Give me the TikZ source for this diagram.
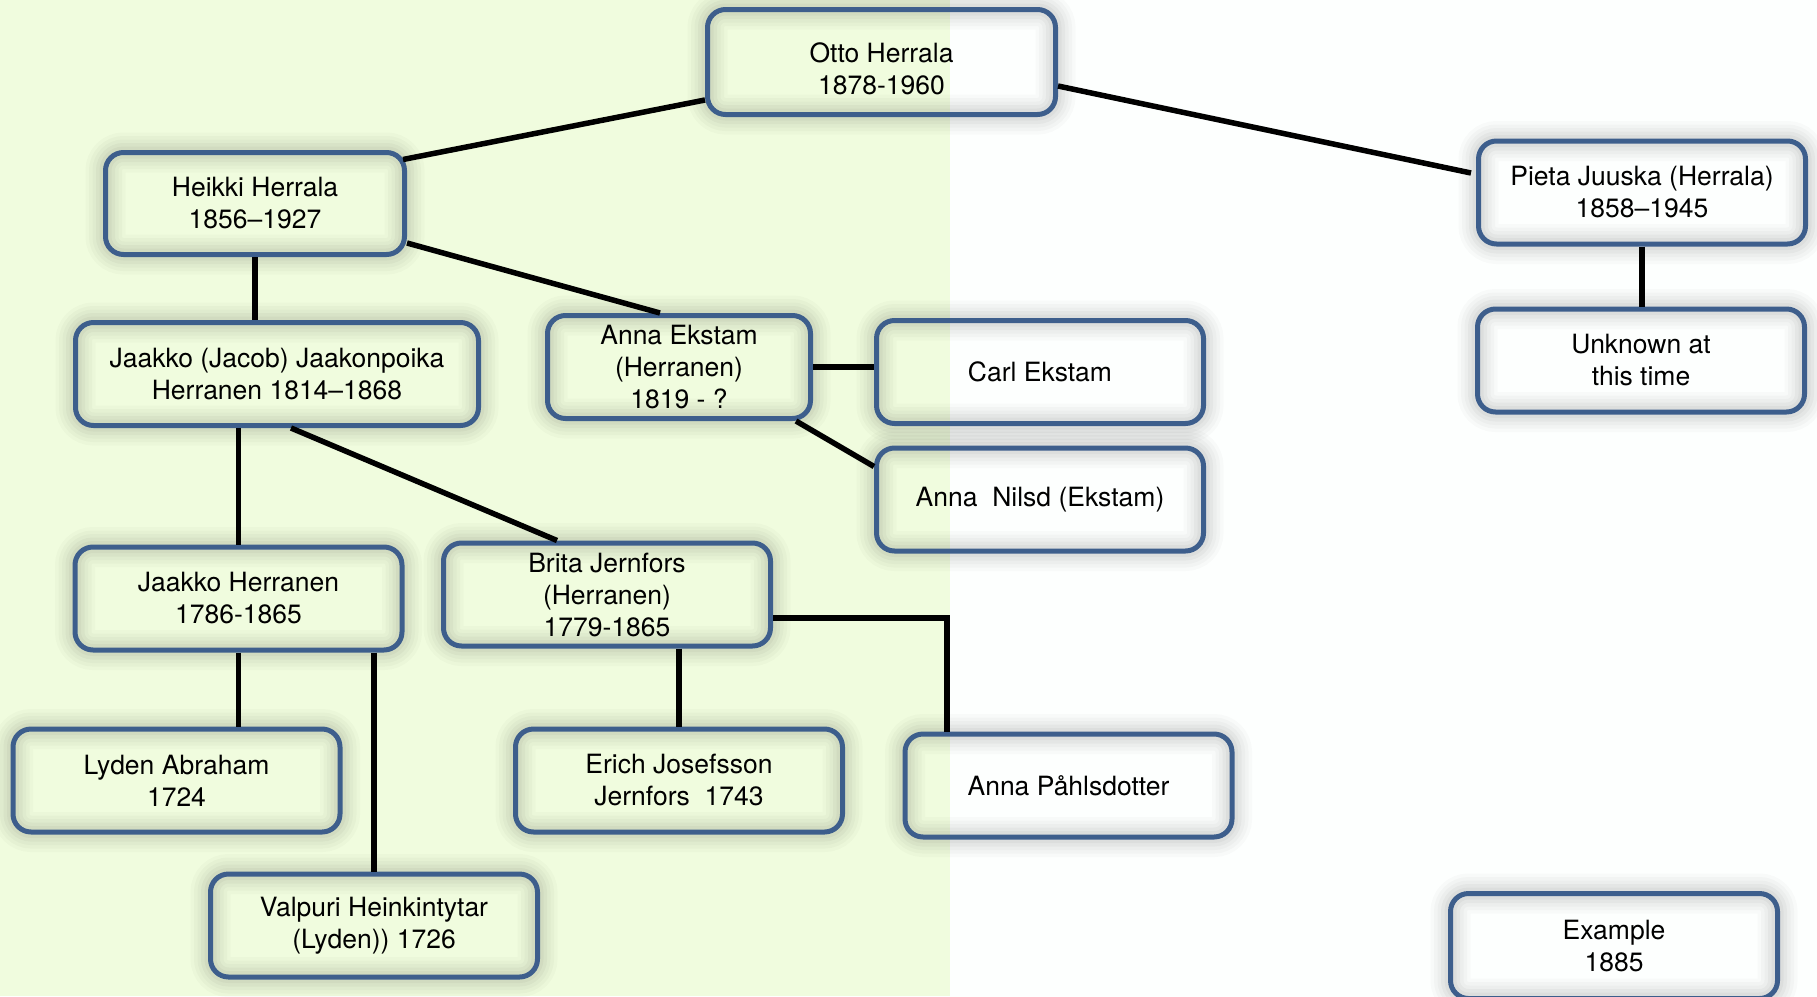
\documentclass[tikz,border=0pt]{standalone}
\usepackage{fontspec}
\setmainfont{TeX Gyre Heros}
\definecolor{bb}{RGB}{61,94,140}
\definecolor{gg}{RGB}{240,252,222}
\definecolor{ww}{RGB}{253,255,254}
\def\height{103pt}
\def\width{327pt}
\tikzset{famcell/.style={draw=bb,line width=5pt,rounded corners=18pt,minimum width=\width,minimum height=\height,align=center,font=\fontsize{26.5}{32}\selectfont,
	preaction={draw=black,opacity=0.02,line width=40pt},
	preaction={draw=black,opacity=0.025,line width=33pt},
	preaction={draw=black,opacity=0.025,line width=26pt},
	preaction={draw=black,opacity=0.03,line width=19pt},
	preaction={draw=black,opacity=0.03,line width=12pt}},
	link/.style={line width=5.5pt,black}}
\newcommand{\famnode}[5][]{\node[famcell,#1] (#4) at (#2,#3) {#5};}
\begin{document}
\begin{tikzpicture}[x=1pt,y=-1pt]
\useasboundingbox (0,0) rectangle (1817,996);
\fill[ww] (0,0) rectangle (1817,996);
\fill[gg] (0,0) rectangle (950,996);

\famnode[minimum width=348pt,minimum height=105pt,text height=66pt]{881.5}{62}{otto}{Otto Herrala\\1878-1960}
\famnode[minimum width=299pt,minimum height=102pt]{255}{203.5}{heikki}{Heikki Herrala\\1856--1927}
\famnode{1642}{192.5}{pieta}{Pieta Juuska (Herrala)\\1858--1945}
\famnode{1641}{360.5}{unknown}{Unknown at\\this time}
\famnode[minimum width=403pt]{277}{374}{jacob}{Jaakko (Jacob) Jaakonpoika\\Herranen 1814--1868}
\famnode[minimum width=263pt]{679}{367}{annaek}{Anna Ekstam\\(Herranen)\\1819 - ?}
\famnode{1040}{372}{carl}{Carl Ekstam}
\famnode{1040}{499.5}{nilsd}{Anna\ \ Nilsd (Ekstam)}
\famnode{238.5}{598.5}{jaakko}{Jaakko Herranen\\1786-1865}
\famnode{607}{594.5}{brita}{Brita Jernfors\\(Herranen)\\1779-1865}
\famnode{176.5}{780.5}{lyden}{Lyden Abraham\\1724}
\famnode{679}{780.5}{erich}{Erich Josefsson\\Jernfors\ \ 1743}
\famnode{1068.5}{785.5}{pahls}{Anna Påhlsdotter}
\famnode{374}{925.5}{valpuri}{Valpuri Heinkintytar\\(Lyden)) 1726}
\famnode[minimum height=105pt]{1614}{946}{example}{Example\\1885}

\draw[link] ([yshift=-38pt]otto.west) -- ([xshift=-4pt,yshift=44pt]heikki.east);
\draw[link] ([yshift=-24pt]otto.east) -- ([xshift=-5pt,yshift=19.5pt]pieta.west);
\draw[link] ([yshift=-39.5pt]heikki.east) -- ([xshift=-19pt]annaek.north);
\draw[link] (heikki.south) -- (heikki.south |- jacob.north);
\draw[link] (pieta.south) -- (pieta.south |- unknown.north);
\draw[link] (jaakko.north |- jacob.south) -- (jaakko.north);
\draw[link] ([xshift=14pt]jacob.south) -- ([xshift=-50pt]brita.north);
\draw[link] (annaek.east) -- (carl.west |- annaek.east);
\draw[link] ([xshift=-17pt]annaek.south east) -- ([yshift=33pt]nilsd.west);
\draw[link] (jaakko.south) -- (jaakko.south |- lyden.north);
\draw[link] (valpuri.north |- jaakko.south) -- (valpuri.north);
\draw[link] (erich.north |- brita.south) -- (erich.north);
\draw[link] ([yshift=-23.5pt]brita.east) -| ([xshift=-121.5pt]pahls.north);
\end{tikzpicture}
\end{document}
